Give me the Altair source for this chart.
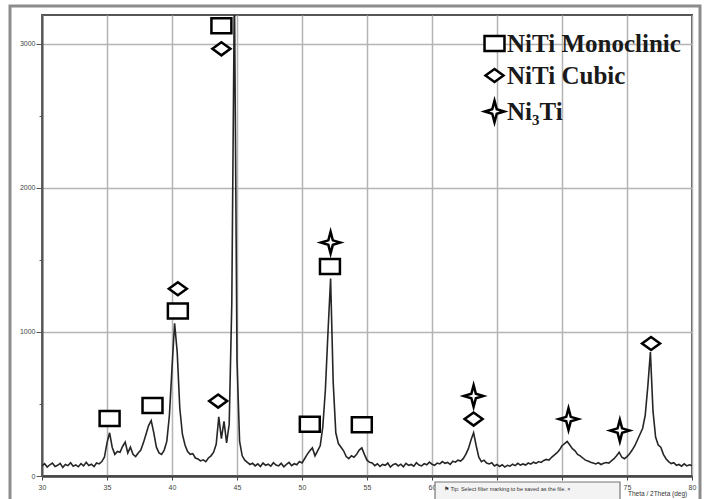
import altair as alt
import pandas as pd

# ---------------- data ----------------
# XRD pattern, 2theta from 30.0 to 80.0 in 0.2 deg steps
counts_30 = [70, 85, 62, 78, 90, 66, 74, 88, 60, 80, 72, 92, 68, 77, 64,
             86, 70, 95, 73, 82, 66, 90, 84, 100, 130]
counts_35 = [230, 300, 200, 150, 170, 165, 205, 235, 160, 200, 150, 135, 160,
             180, 230, 290, 350, 385, 300, 200, 160, 150, 180, 240, 420]
counts_40 = [750, 1060, 860, 470, 290, 215, 170, 150, 155, 125, 118, 105, 112,
             100, 125, 140, 165, 220, 410, 260, 380, 230, 360, 1200, 3400]
counts_45 = [800, 240, 140, 110, 95, 80, 88, 70, 84, 66, 90, 74, 82, 68, 92,
             76, 70, 88, 64, 80, 94, 72, 85, 78, 100]
counts_50 = [90, 120, 150, 175, 195, 140, 175, 210, 340, 600, 1000, 1370, 650,
             300, 225, 200, 175, 135, 120, 140, 130, 150, 180, 195, 150]
counts_55 = [110, 95, 90, 72, 85, 66, 80, 74, 90, 62, 78, 86, 70, 82, 64,
             88, 74, 80, 68, 92, 76, 70, 86, 78, 96]
counts_60 = [82, 74, 90, 84, 100, 88, 94, 80, 102, 96, 110, 104, 120, 150, 190,
             250, 300, 210, 130, 100, 110, 90, 84, 92, 70]
counts_65 = [80, 66, 78, 62, 74, 68, 82, 72, 88, 76, 84, 76, 90, 82, 96,
             88, 100, 94, 108, 115, 110, 130, 145, 160, 180]
counts_70 = [210, 225, 240, 215, 190, 175, 150, 140, 125, 110, 104, 96, 90, 84,
             92, 80, 88, 94, 90, 105, 120, 140, 165, 130, 120]
counts_75 = [135, 155, 180, 210, 250, 290, 330, 420, 620, 860, 450, 270, 215,
             200, 150, 120, 100, 86, 92, 74, 80, 68, 84, 70, 78]
counts_80 = [72]

counts = (counts_30 + counts_35 + counts_40 + counts_45 + counts_50 +
          counts_55 + counts_60 + counts_65 + counts_70 + counts_75 + counts_80)
two_theta = [round(30.0 + 0.2 * i, 1) for i in range(len(counts))]

# peak markers
phases = ["NiTi Monoclinic", "NiTi Cubic", "Ni\u2083Ti"]
mono_x = [35.2, 38.5, 40.45, 43.8, 50.6, 52.15, 54.6]
mono_y = [400, 490, 1145, 3125, 360, 1455, 355]
cubic_x = [40.45, 43.8, 43.55, 63.2, 76.85]
cubic_y = [1300, 2965, 520, 395, 920]
ni3ti_x = [52.2, 63.2, 70.5, 74.45]
ni3ti_y = [1620, 555, 395, 315]

x_ticks = [30, 35, 40, 45, 50, 55, 60, 65, 70, 75, 80]
x_hidden = [65, 70]          # covered by the tooltip box in the picture
y_ticks = [0, 500, 1000, 1500, 2000, 2500, 3000]

# ---------------- tables ----------------
pattern = pd.DataFrame({"two_theta": two_theta, "counts": counts})
markers = pd.DataFrame({
    "two_theta": mono_x + cubic_x + ni3ti_x,
    "counts": mono_y + cubic_y + ni3ti_y,
    "phase": [phases[0]] * len(mono_x) + [phases[1]] * len(cubic_x) + [phases[2]] * len(ni3ti_x),
})

square_path = "M-1.33,-1L1.33,-1L1.33,1L-1.33,1Z"
diamond_path = "M-1.2,0L0,-0.87L1.2,0L0,0.87Z"
star_path = "M0,-1.45L0.3,-0.3L1.3,0L0.3,0.3L0,1.45L-0.3,0.3L-1.3,0L-0.3,-0.3Z"

hide_expr = " || ".join(f"datum.value == {v}" for v in x_hidden)

x_enc = alt.X(
    "two_theta:Q",
    scale=alt.Scale(domain=[30, 80], nice=False, zero=False),
    axis=alt.Axis(
        values=x_ticks, title=None, format="d",
        labelExpr=f"({hide_expr}) ? '' : datum.label",
        labelFlush=False, labelOverlap=False,
        labelFontSize=7, labelColor="#444", labelPadding=3,
        tickColor="#444", tickSize=4,
        gridColor="#b4b4b4", gridWidth=1.5,
        domainColor="#444", domainWidth=2.5,
    ),
)
y_enc = alt.Y(
    "counts:Q",
    scale=alt.Scale(domain=[0, 3200], nice=False),
    axis=alt.Axis(
        values=y_ticks, title=None, format="d",
        labelExpr="datum.value % 1000 === 0 ? datum.label : ''",
        labelFontSize=7, labelColor="#444", labelPadding=1,
        tickColor="#555",
        tickSize={"condition": {"test": "datum.value % 1000 === 0", "value": 6}, "value": 3},
        gridColor="#b4b4b4", gridWidth=1.5,
        gridOpacity={"condition": {"test": "datum.value % 1000 === 0", "value": 1}, "value": 0},
        domainColor="#555", domainWidth=2,
    ),
)

line = alt.Chart(pattern).mark_line(color="#262626", strokeWidth=1.6, clip=True).encode(
    x=x_enc, y=y_enc
)

legend_def = alt.Legend(
    orient="none", legendX=440, legendY=16, title=None, padding=0,
    labelFont="Liberation Serif", labelFontSize=25, labelFontWeight="bold",
    labelColor="#1a1a1a", labelLimit=400, labelOffset=0,
    symbolSize=225, symbolStrokeWidth=2.5, symbolStrokeColor="black",
    symbolFillColor="white", symbolOpacity=1, rowPadding=6,
)

points = alt.Chart(markers).mark_point(
    filled=False, strokeWidth=2.5, opacity=1, size=225
).encode(
    x="two_theta:Q",
    y="counts:Q",
    fill=alt.value("white"),
    fillOpacity=alt.value(1),
    stroke=alt.Stroke(
        "phase:N",
        scale=alt.Scale(domain=phases, range=["black", "black", "black"]),
        legend=legend_def,
    ),
    shape=alt.Shape(
        "phase:N",
        scale=alt.Scale(domain=phases, range=[square_path, diamond_path, star_path]),
        legend=legend_def,
    ),
)

dummy = pd.DataFrame({"k": [0]})
outer_frame = alt.Chart(dummy).mark_rect(
    fill=None, stroke="#8c8c8c", strokeWidth=3
).encode(
    x=alt.value(-32), x2=alt.value(658), y=alt.value(-9), y2=alt.value(520)
)

tip_box = alt.Chart(dummy).mark_rect(
    fill="#f3f3f3", stroke="#777", strokeWidth=1.2
).encode(
    x=alt.value(393), x2=alt.value(578), y=alt.value(467), y2=alt.value(495)
)
tip_text = alt.Chart(dummy).mark_text(
    align="left", baseline="middle", fontSize=5.5, color="#333", font="Liberation Sans"
).encode(
    x=alt.value(402), y=alt.value(474),
    text=alt.value("\u2691  Tip: Select filter marking to be saved as the file.   \u00d7"),
)
theta_text = alt.Chart(dummy).mark_text(
    align="left", baseline="middle", fontSize=6.5, color="#333", font="Liberation Sans"
).encode(
    x=alt.value(586), y=alt.value(479), text=alt.value("Theta / 2Theta (deg)")
)

chart = alt.layer(line, points, outer_frame, tip_box, tip_text, theta_text).properties(
    width=650, height=461,
    padding={"left": 42, "top": 15, "right": 14, "bottom": 23},
    autosize=alt.AutoSizeParams(type="none"),
    background="white",
).configure_view(stroke="#555", strokeWidth=2)

chart.save("out.html", embed_options={"renderer": "svg", "actions": False})
